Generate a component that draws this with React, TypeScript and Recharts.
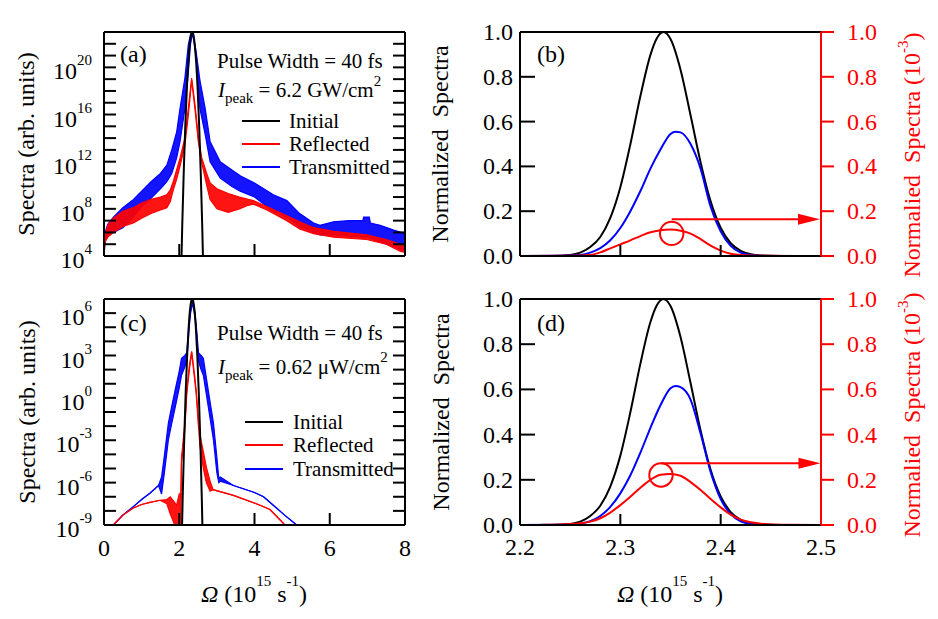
import React from 'react';
import { ComposedChart, Line, Area, XAxis, YAxis, ReferenceDot, ReferenceLine } from 'recharts';

const FONT = "'Liberation Serif', 'Times New Roman', Times, serif";
const BLUE = '#0000ff';
const RED = '#ff0000';

// ---- panel (a): log10 of spectra, Ω in 1e15 s^-1 ----
const aInitial = [
  [2.04, 1.2], [2.08, 6.6], [2.12, 11.2], [2.16, 15.0], [2.2, 18.1], [2.24, 20.4], [2.28, 22.0],
  [2.32, 22.85], [2.345, 23.0], [2.37, 22.85], [2.41, 22.0], [2.45, 20.4], [2.49, 18.1],
  [2.53, 15.0], [2.57, 11.2], [2.61, 6.6], [2.65, 1.2],
];
// [x, lower envelope, upper envelope] of the fast oscillation
const aReflected = [
  [0, 4.0, 4.3], [0.03, 5.2, 5.8], [0.1, 5.6, 6.6], [0.25, 6.0, 7.2], [0.5, 6.5, 7.8], [0.78, 6.8, 8.1],
  [1.0, 7.2, 8.5], [1.25, 7.6, 8.8], [1.5, 7.9, 9.0], [1.67, 8.1, 9.2], [1.76, 8.6, 9.6], [1.84, 9.6, 10.3],
  [1.93, 10.5, 11.3], [2.02, 11.6, 12.3], [2.15, 13.4, 14.0], [2.24, 15.9, 16.5], [2.33, 18.9, 19.1],
  [2.42, 16.4, 16.8], [2.51, 13.6, 14.0], [2.6, 11.9, 12.3], [2.73, 10.0, 11.0], [2.82, 8.8, 10.2],
  [3.0, 8.0, 9.7], [3.3, 7.7, 9.3], [3.6, 8.0, 9.0], [3.83, 8.3, 8.8], [3.97, 8.4, 8.7], [4.33, 7.9, 8.2],
  [4.86, 7.0, 7.4], [5.2, 6.3, 6.9], [5.57, 5.9, 6.4], [6.1, 5.6, 6.1], [6.98, 5.4, 5.8], [7.5, 5.0, 5.4],
  [7.87, 4.4, 5.0], [8.0, 4.3, 4.8],
];
const aTransmitted = [
  [0, 4.0, 4.3], [0.03, 5.4, 6.0], [0.1, 5.8, 6.7], [0.25, 6.0, 7.3], [0.5, 6.4, 8.1], [0.75, 7.2, 8.7],
  [1.0, 8.2, 9.5], [1.25, 8.9, 10.3], [1.5, 9.7, 11.0], [1.67, 10.3, 11.7], [1.8, 11.0, 13.0],
  [1.93, 12.3, 14.5], [2.02, 13.7, 16.5], [2.15, 16.5, 19.1], [2.24, 19.5, 21.9], [2.3, 22.0, 22.8],
  [2.36, 22.9, 23.0], [2.45, 20.8, 21.3], [2.55, 16.5, 18.9], [2.69, 14.3, 16.5], [2.82, 12.0, 13.7],
  [3.09, 10.6, 12.0], [3.4, 9.9, 11.3], [3.62, 9.5, 10.8], [4.0, 9.0, 10.2], [4.5, 7.8, 9.2],
  [4.86, 7.3, 8.7], [5.2, 6.5, 7.6], [5.57, 6.0, 6.8], [5.74, 5.8, 6.6], [6.1, 5.8, 6.9], [6.5, 5.7, 7.0],
  [6.88, 5.6, 7.0], [6.9, 5.6, 7.3], [7.05, 5.6, 7.3], [7.08, 5.5, 6.8], [7.34, 5.2, 6.6],
  [7.7, 4.8, 6.2], [8.0, 4.4, 5.9],
];
const aDecades = [4, 5, 6, 7, 8, 9, 10, 11, 12, 13, 14, 15, 16, 17, 18, 19, 20, 21, 22, 23];
const aLabels = [4, 8, 12, 16, 20];

// ---- panel (c) ----
const cInitial = [
  [2.05, -12.1], [2.09, -7.2], [2.13, -3.1], [2.17, 0.3], [2.21, 3.0], [2.25, 5.0], [2.29, 6.34],
  [2.32, 6.86], [2.345, 7.0], [2.37, 6.86], [2.4, 6.34], [2.44, 5.0], [2.48, 3.0], [2.52, 0.3],
  [2.56, -3.1], [2.6, -7.2], [2.64, -12.1],
];
const cReflected = [
  [0.25, -9.0, -9.0], [0.5, -8.3, -8.3], [0.78, -7.8, -7.8], [1.0, -7.55, -7.55], [1.22, -7.4, -7.4],
  [1.49, -7.25, -7.25], [1.67, -7.5, -7.2], [1.76, -8.2, -7.0], [1.85, -8.8, -7.3], [1.93, -9.5, -7.6],
  [2.0, -9.5, -6.8], [2.04, -9.5, -7.0], [2.06, -4.6, -4.2], [2.15, -2.2, -1.8], [2.2, 0.3, 0.55],
  [2.27, 2.0, 2.3], [2.33, 3.2, 3.3], [2.4, 1.5, 1.8], [2.45, 0.3, 0.55], [2.51, -2.0, -1.6],
  [2.55, -3.4, -2.6], [2.64, -5.0, -3.8], [2.72, -6.0, -4.9], [2.82, -6.6, -5.9], [2.9, -6.5, -6.5],
  [3.44, -6.9, -6.9], [4.15, -7.6, -7.6], [4.41, -7.9, -7.9], [4.81, -9.0, -9.0],
];
const cTransmitted = [
  [0.25, -9.0, -9.0], [0.5, -8.3, -8.3], [0.78, -7.7, -7.7], [1.0, -7.2, -7.2], [1.22, -6.75, -6.75],
  [1.45, -6.2, -6.2], [1.53, -6.8, -5.6], [1.6, -5.4, -4.2], [1.71, -3.0, -1.8], [1.8, -1.8, -0.6],
  [1.89, -0.7, 0.55], [2.0, 0.7, 1.9], [2.06, 1.6, 2.8], [2.15, 2.2, 3.0], [2.2, 2.7, 3.2],
  [2.26, 4.8, 5.3], [2.3, 6.0, 6.3], [2.36, 6.7, 6.8], [2.42, 5.7, 6.0], [2.47, 4.2, 4.6],
  [2.51, 2.6, 3.2], [2.58, 2.0, 3.0], [2.64, 1.6, 2.8], [2.77, -0.6, 0.55], [2.91, -3.0, -1.8],
  [3.0, -5.3, -4.2], [3.05, -6.0, -5.7], [3.09, -5.9, -5.6], [3.44, -6.2, -6.2], [4.0, -6.7, -6.7],
  [4.24, -7.0, -7.0], [4.5, -7.6, -7.6], [4.8, -8.3, -8.3], [5.12, -9.0, -9.0],
];
const cDecades = [-9, -8, -7, -6, -5, -4, -3, -2, -1, 0, 1, 2, 3, 4, 5, 6, 7];
const cLabels = [-9, -6, -3, 0, 3, 6];

// ---- panels (b) and (d): normalized spectra ----
const bInitial = [
  [2.2, 0], [2.23, 0.0005], [2.25, 0.005], [2.26, 0.015], [2.27, 0.04], [2.28, 0.085], [2.29, 0.17],
  [2.3, 0.307], [2.31, 0.499], [2.32, 0.714], [2.33, 0.898], [2.336, 0.969], [2.343, 1.0], [2.35, 0.969],
  [2.36, 0.832], [2.37, 0.628], [2.38, 0.418], [2.39, 0.244], [2.4, 0.126], [2.41, 0.057], [2.42, 0.023],
  [2.43, 0.008], [2.44, 0.0025], [2.46, 0.0002], [2.5, 0],
];
const bTransmitted = [
  [2.2, 0], [2.24, 0.001], [2.26, 0.005], [2.27, 0.015], [2.28, 0.035], [2.29, 0.07], [2.3, 0.125],
  [2.31, 0.2], [2.32, 0.29], [2.33, 0.39], [2.34, 0.475], [2.35, 0.545], [2.355, 0.555], [2.36, 0.552],
  [2.37, 0.5], [2.38, 0.39], [2.39, 0.22], [2.4, 0.11], [2.41, 0.045], [2.42, 0.015], [2.43, 0.004],
  [2.45, 0], [2.5, 0],
];
const bReflected = [
  [2.2, 0], [2.25, 0.001], [2.27, 0.005], [2.28, 0.016], [2.29, 0.034], [2.3, 0.052], [2.31, 0.07],
  [2.32, 0.089], [2.33, 0.106], [2.34, 0.115], [2.35, 0.118], [2.36, 0.113], [2.37, 0.1], [2.38, 0.075],
  [2.39, 0.046], [2.4, 0.024], [2.41, 0.01], [2.42, 0.004], [2.44, 0.001], [2.5, 0],
];
const dInitial = bInitial;
const dTransmitted = [
  [2.2, 0], [2.24, 0.001], [2.26, 0.006], [2.27, 0.017], [2.28, 0.04], [2.29, 0.08], [2.3, 0.14],
  [2.31, 0.22], [2.32, 0.32], [2.33, 0.43], [2.34, 0.53], [2.35, 0.605], [2.355, 0.615], [2.36, 0.61],
  [2.37, 0.555], [2.38, 0.405], [2.39, 0.235], [2.4, 0.115], [2.41, 0.048], [2.42, 0.016], [2.43, 0.004],
  [2.45, 0], [2.5, 0],
];
const dReflected = [
  [2.2, 0], [2.22, 0.0005], [2.24, 0.002], [2.26, 0.008], [2.27, 0.015], [2.28, 0.03], [2.29, 0.055],
  [2.3, 0.088], [2.31, 0.125], [2.32, 0.165], [2.33, 0.2], [2.34, 0.222], [2.35, 0.226], [2.36, 0.218],
  [2.37, 0.19], [2.38, 0.155], [2.39, 0.115], [2.4, 0.078], [2.41, 0.046], [2.42, 0.024], [2.43, 0.012],
  [2.44, 0.006], [2.46, 0.001], [2.5, 0],
];

const wideTicks = [0, 2, 4, 6, 8];
const narrowTicks = [2.2, 2.3, 2.4, 2.5];
const normTicks = [0, 0.2, 0.4, 0.6, 0.8, 1.0];

// circled reflected peak + arrow to the right axis (data coords)
const bMark = { x: 2.3512, y: 0.101, arrowY: 0.164, tipX: 2.499 };
const dMark = { x: 2.3405, y: 0.221, arrowY: 0.273, tipX: 2.4995 };

const lineRows = (pts: number[][], log = false) =>
  pts.map(([x, v]) => ({ x, v: log ? 10 ** v : v }));
const bandRows = (pts: number[][]) => pts.map(([x, lo, hi]) => ({ x, v: [10 ** lo, 10 ** hi] }));

const axisStroke = { stroke: '#000', strokeWidth: 2 };
const txt = { fontFamily: FONT };
const noTick = () => <g />;

function makeLogTick(labels: number[]) {
  return (props: any) => {
    const { x, y, payload } = props;
    const e = Math.round(Math.log10(payload.value));
    if (!labels.includes(e)) return <g />;
    return (
      <text x={x} y={y + 12} textAnchor="end" style={txt} fontSize={24} fill="#000">
        10<tspan dy={-14} fontSize={15}>{e}</tspan>
      </text>
    );
  };
}

const WideXTick = ({ x, y, payload }: any) => (
  <text x={x} y={y + 23} textAnchor="middle" style={txt} fontSize={24} fill="#000">
    {payload.value}
  </text>
);
const NarrowXTick = ({ x, y, payload }: any) => (
  <text x={x} y={y + 21} textAnchor="middle" style={txt} fontSize={24} fill="#000">
    {payload.value.toFixed(1)}
  </text>
);
const NormLeftTick = ({ x, y, payload }: any) => (
  <text x={x} y={y + 8} textAnchor="end" style={txt} fontSize={24} fill="#000">
    {payload.value.toFixed(1)}
  </text>
);
const NormRightTick = ({ x, y, payload }: any) => (
  <text x={x} y={y + 8} textAnchor="start" style={txt} fontSize={24} fill={RED}>
    {payload.value.toFixed(1)}
  </text>
);

const Arrow = (p: any) => {
  const { x1, y1, x2, y2 } = p;
  return (
    <g>
      <line x1={x1} y1={y1} x2={x2 - 18} y2={y2} stroke={RED} strokeWidth={2} />
      <polygon points={`${x2},${y2} ${x2 - 22},${y2 - 5.5} ${x2 - 22},${y2 + 5.5}`} fill={RED} />
    </g>
  );
};

function LogPanel({ top, height, marginTop, bottomHeight, domain, decades, labels, initial, reflected, transmitted, showX }: any) {
  return (
    <div style={{ position: 'absolute', left: 0, top }}>
      <ComposedChart width={470} height={height} margin={{ top: marginTop, right: 55, bottom: 0, left: 0 }}>
        <XAxis dataKey="x" type="number" domain={[0, 8]} ticks={wideTicks} interval={0} height={bottomHeight}
          axisLine={axisStroke} tickLine={axisStroke} tickSize={-12} tickMargin={20}
          tick={showX ? WideXTick : noTick} allowDataOverflow />
        <XAxis xAxisId="top" orientation="top" dataKey="x" type="number" domain={[0, 8]} ticks={wideTicks}
          interval={0} height={10} axisLine={axisStroke} tickLine={axisStroke} tickSize={-12} tick={noTick} />
        <YAxis type="number" scale="log" domain={domain} ticks={decades.map((e: number) => 10 ** e)} interval={0}
          width={104} axisLine={axisStroke} tickLine={axisStroke} tickSize={-12} tickMargin={24}
          tick={makeLogTick(labels)} allowDataOverflow />
        <YAxis yAxisId="right" orientation="right" type="number" scale="log" domain={domain}
          ticks={decades.map((e: number) => 10 ** e)} interval={0} width={10} axisLine={axisStroke}
          tickLine={axisStroke} tickSize={-12} tick={noTick} allowDataOverflow />
        <Area data={bandRows(transmitted)} dataKey="v" type="linear" stroke={BLUE} strokeWidth={1.2}
          fill={BLUE} fillOpacity={0.92} isAnimationActive={false} dot={false} activeDot={false} />
        <Area data={bandRows(reflected)} dataKey="v" type="linear" stroke={RED} strokeWidth={1.2}
          fill={RED} fillOpacity={0.92} isAnimationActive={false} dot={false} activeDot={false} />
        <Line data={lineRows(initial, true)} dataKey="v" type="monotone" stroke="#000" strokeWidth={2}
          dot={false} activeDot={false} isAnimationActive={false} />
      </ComposedChart>
    </div>
  );
}

function NormPanel({ top, height, marginTop, bottomHeight, initial, reflected, transmitted, mark, showX }: any) {
  return (
    <div style={{ position: 'absolute', left: 420, top }}>
      <ComposedChart width={518} height={height} margin={{ top: marginTop, right: 0, bottom: 0, left: 0 }}>
        <XAxis dataKey="x" type="number" domain={[2.2, 2.5]} ticks={narrowTicks} interval={0} height={bottomHeight}
          axisLine={axisStroke} tickLine={axisStroke} tickSize={-11} tickMargin={20}
          tick={showX ? NarrowXTick : noTick} allowDataOverflow />
        <XAxis xAxisId="top" orientation="top" dataKey="x" type="number" domain={[2.2, 2.5]} ticks={narrowTicks}
          interval={0} height={10} axisLine={axisStroke} tickLine={axisStroke} tickSize={-11} tick={noTick} />
        <YAxis type="number" domain={[0, 1]} ticks={normTicks} interval={0} width={100}
          axisLine={axisStroke} tickLine={axisStroke} tickSize={-15} tickMargin={22} tick={NormLeftTick} />
        <YAxis yAxisId="right" orientation="right" type="number" domain={[0, 1]} ticks={normTicks} interval={0}
          width={117} axisLine={{ stroke: RED, strokeWidth: 2 }} tickLine={{ stroke: RED, strokeWidth: 2 }}
          tickSize={13} tickMargin={13} tick={NormRightTick} />
        <Line data={lineRows(initial)} dataKey="v" type="monotone" stroke="#000" strokeWidth={2}
          dot={false} activeDot={false} isAnimationActive={false} />
        <Line data={lineRows(transmitted)} dataKey="v" type="monotone" stroke={BLUE} strokeWidth={2}
          dot={false} activeDot={false} isAnimationActive={false} />
        <Line data={lineRows(reflected)} yAxisId="right" dataKey="v" type="monotone" stroke={RED} strokeWidth={2}
          dot={false} activeDot={false} isAnimationActive={false} />
        <ReferenceDot yAxisId="right" x={mark.x} y={mark.y} r={11.7} fill="none" stroke={RED} strokeWidth={2} />
        <ReferenceLine yAxisId="right" segment={[{ x: mark.x, y: mark.arrowY }, { x: mark.tipX, y: mark.arrowY }]}
          stroke={RED} shape={Arrow} />
      </ComposedChart>
    </div>
  );
}

function XTitle({ cx }: { cx: number }) {
  return (
    <text x={cx} y={602} textAnchor="middle" fontSize={24}>
      <tspan fontStyle="italic">Ω</tspan>{' (10'}
      <tspan dy={-16} fontSize={15}>15</tspan>
      <tspan dy={16}>{' s'}</tspan>
      <tspan dy={-16} fontSize={15}>-1</tspan>
      <tspan dy={16}>)</tspan>
    </text>
  );
}

function Legend({ lineX, textX, rows }: { lineX: number; textX: number; rows: number[] }) {
  const items = [['Initial', '#000'], ['Reflected', RED], ['Transmitted', BLUE]];
  return (
    <g>
      {items.map(([name, color], i) => (
        <g key={name}>
          <line x1={lineX} x2={lineX + 38} y1={rows[i] - 7} y2={rows[i] - 7} stroke={color} strokeWidth={2} />
          <text x={textX} y={rows[i]} fontSize={21}>{name}</text>
        </g>
      ))}
    </g>
  );
}

function Annotations() {
  return (
    <svg width={938} height={619} style={{ position: 'absolute', left: 0, top: 0, pointerEvents: 'none', fontFamily: FONT }}
      fill="#000">
      <text transform="translate(34,144) rotate(-90)" textAnchor="middle" fontSize={24}>Spectra (arb. units)</text>
      <text transform="translate(35,412) rotate(-90)" textAnchor="middle" fontSize={24}>Spectra (arb. units)</text>
      <text transform="translate(448,144) rotate(-90)" textAnchor="middle" fontSize={24}>{'Normalized\u00a0 Spectra'}</text>
      <text transform="translate(449,412) rotate(-90)" textAnchor="middle" fontSize={24}>{'Normalized\u00a0 Spectra'}</text>
      {[155, 415].map((cy) => (
        <text key={cy} transform={`translate(920,${cy}) rotate(-90)`} textAnchor="middle" fontSize={24} fill={RED}>
          {'Normalied\u00a0 Spectra (10'}
          <tspan dy={-12} fontSize={15}>-3</tspan>
          <tspan dy={12}>)</tspan>
        </text>
      ))}
      <XTitle cx={254} />
      <XTitle cx={670} />

      <text x={120} y={62} fontSize={24}>(a)</text>
      <text x={120} y={331} fontSize={24}>(c)</text>
      <text x={537} y={62} fontSize={24}>(b)</text>
      <text x={537} y={331} fontSize={24}>(d)</text>

      <text x={217} y={68} fontSize={21}>Pulse Width = 40 fs</text>
      <text x={218} y={97} fontSize={21}>
        <tspan fontStyle="italic">I</tspan>
        <tspan dy={6} fontSize={15}>peak</tspan>
        <tspan dy={-6}>{' = 6.2 GW/cm'}</tspan>
        <tspan dy={-11} fontSize={15}>2</tspan>
      </text>
      <text x={217} y={340} fontSize={21}>Pulse Width = 40 fs</text>
      <text x={218} y={374} fontSize={21}>
        <tspan fontStyle="italic">I</tspan>
        <tspan dy={6} fontSize={15}>peak</tspan>
        <tspan dy={-6}>{' = 0.62 \u03bcW/cm'}</tspan>
        <tspan dy={-12} fontSize={15}>2</tspan>
      </text>
      <Legend lineX={242} textX={289} rows={[128, 151, 174]} />
      <Legend lineX={245} textX={293} rows={[429, 452, 476]} />
    </svg>
  );
}

export default function App() {
  return (
    <div style={{ position: 'absolute', left: 0, top: 0, width: 938, height: 619, background: '#fff', overflow: 'hidden', fontFamily: FONT }}>
      <LogPanel top={0} height={290} marginTop={22} bottomHeight={34} domain={[1e4, 1e23]}
        decades={aDecades} labels={aLabels} initial={aInitial} reflected={aReflected} transmitted={aTransmitted} />
      <LogPanel top={280} height={339} marginTop={9} bottomHeight={94} domain={[1e-9, 1e7]}
        decades={cDecades} labels={cLabels} initial={cInitial} reflected={cReflected} transmitted={cTransmitted} showX />
      <NormPanel top={0} height={290} marginTop={22} bottomHeight={34}
        initial={bInitial} reflected={bReflected} transmitted={bTransmitted} mark={bMark} />
      <NormPanel top={280} height={339} marginTop={9} bottomHeight={94}
        initial={dInitial} reflected={dReflected} transmitted={dTransmitted} mark={dMark} showX />
      <Annotations />
    </div>
  );
}
